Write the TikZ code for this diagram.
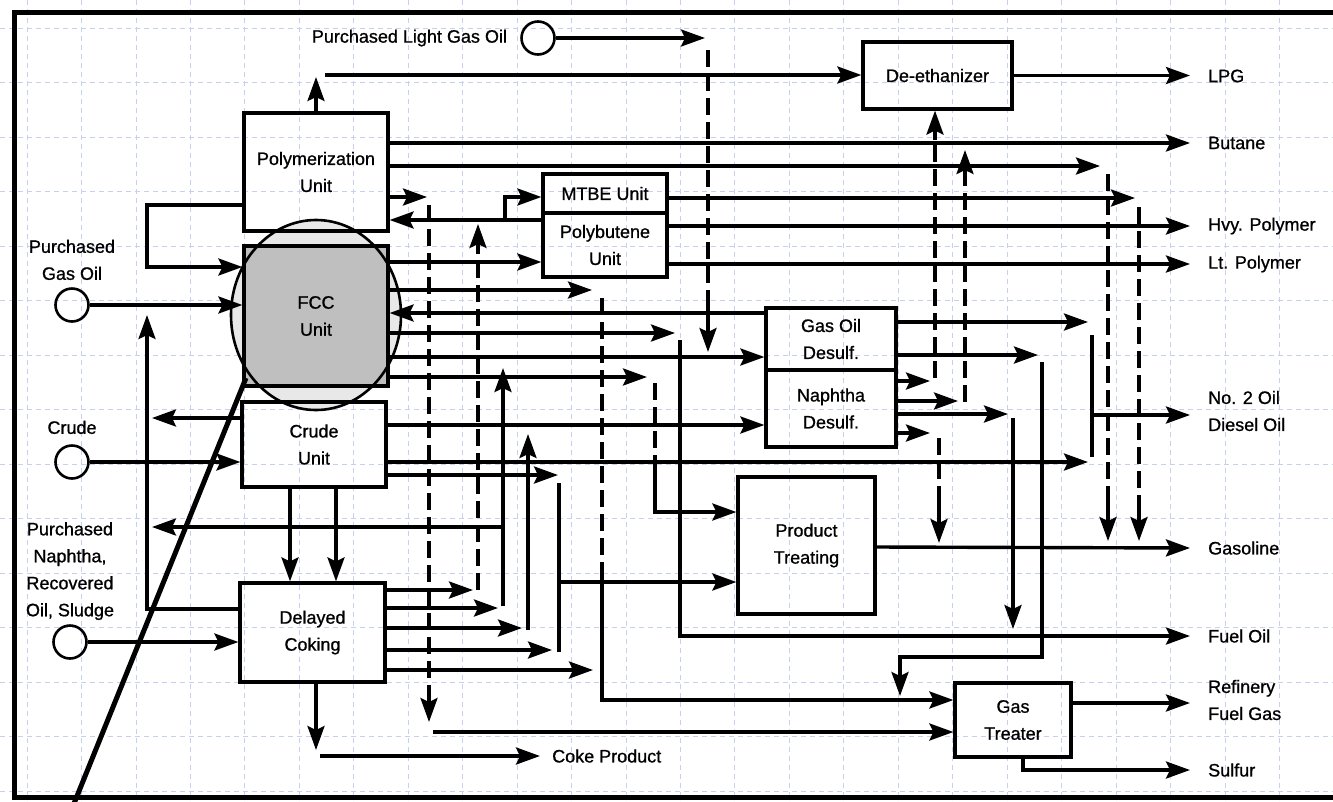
\documentclass[tikz,border=0pt]{standalone}
\usepackage{fontspec}
\setmainfont{Liberation Sans}[FakeBold=0.9]
\usepackage{tikz}
\usetikzlibrary{arrows.meta,positioning,calc}
\definecolor{gridblue}{RGB}{200,208,240}

\begin{document}
\begin{tikzpicture}[x=1pt,y=-1pt,
  font=\fontsize{18}{27}\selectfont,
  unitbox/.style={draw,line width=3.2pt,inner sep=0pt,align=center},
  feed/.style={draw,circle,line width=2.6pt,minimum size=33pt,inner sep=0pt},
  pipe/.style={line width=3.4pt},
  flow/.style={pipe,-{Stealth[length=24pt,width=17pt,inset=4pt]}},
  dashpipe/.style={pipe,dash pattern=on 17pt off 7pt},
  outlabel/.style={anchor=west,inner xsep=18pt,inner ysep=0pt,align=left},
  inlabel/.style={inner sep=0pt,align=center},
  gridline/.style={gridblue,line width=0.8pt,dash pattern=on 5pt off 4pt}]
\useasboundingbox (0,0) rectangle (1333,801);
\foreach \gx in {0,...,24} \draw[gridline] ({27+54.45*\gx},0) -- ({27+54.45*\gx},801);
\foreach \gy in {0,...,14} \draw[gridline] (0,{28+54.5*\gy}) -- (1333,{28+54.5*\gy});
\draw[line width=5pt] (1345,12) -- (14,12) -- (14,797) -- (1345,797);
\fill[gray!18] (316,315) ellipse [x radius=85pt, y radius=95pt];

\node[unitbox,minimum width=144pt,minimum height=118pt] (poly) at (316,172) {Polymerization\\Unit};
\node[unitbox,fill=gray!50,minimum width=144pt,minimum height=140pt] (fcc) at (316,316) {FCC\\Unit};
\node[unitbox,minimum width=144pt,minimum height=85pt] (crude) at (314,444.5) {Crude\\Unit};
\node[unitbox,minimum width=145pt,minimum height=99pt] (coker) at (312.5,632.5) {Delayed\\Coking};
\node[unitbox,minimum width=124pt,minimum height=39pt] (mtbe) at (605,193.5) {MTBE Unit};
\node[unitbox,minimum width=124pt,minimum height=64pt] (polyb) at (605,245) {Polybutene\\Unit};
\node[unitbox,minimum width=149pt,minimum height=67pt] (deeth) at (937.5,75.5) {De-ethanizer};
\node[unitbox,minimum width=130pt,minimum height=62pt] (gods) at (831,339) {Gas Oil\\Desulf.};
\node[unitbox,minimum width=130pt,minimum height=77pt] (nds) at (831,408.5) {Naphtha\\Desulf.};
\node[unitbox,minimum width=137pt,minimum height=137pt] (treat) at (806.5,545.5) {Product\\Treating};
\node[unitbox,minimum width=116pt,minimum height=74pt] (gastr) at (1013,720) {Gas\\Treater};
\draw[line width=2.6pt] (316,315) ellipse [x radius=85pt, y radius=95pt];

\node[feed] (lgo) at (538,38) {};
\node[feed] (pgo) at (72,305) {};
\node[feed] (crd) at (72,462) {};
\node[feed] (pns) at (70,642) {};
\node[inlabel,anchor=east] (lgolab) at ([xshift=-13pt]lgo.west) {Purchased Light Gas Oil};
\node[inlabel,above=7pt of pgo] (pgolab) {Purchased\\Gas Oil};
\node[inlabel,above=10pt of crd] (crdlab) {Crude};
\node[inlabel,above=4pt of pns] (pnslab) {Purchased\\Naphtha,\\Recovered\\Oil, Sludge};

\node[outlabel] (lpg) at (1190,76) {LPG};
\node[outlabel] (butane) at (1190,143) {Butane};
\node[outlabel] (hvy) at (1190,226) {Hvy. Polymer};
\node[outlabel] (lt) at (1190,264) {Lt. Polymer};
\node[outlabel] (diesel) at (1190,411) {No. 2 Oil\\Diesel Oil};
\node[outlabel] (gasoline) at (1190,548) {Gasoline};
\node[outlabel] (fueloil) at (1190,636) {Fuel Oil};
\node[outlabel] (rfg) at (1190,700) {Refinery\\Fuel Gas};
\node[outlabel] (sulfur) at (1190,770) {Sulfur};
\node[outlabel,inner xsep=12pt] (coke) at (540,756) {Coke Product};

\draw[flow] (lgo) -- (705,38);
\draw[flow] (pgo) -- (fcc.west |- pgo);
\draw[flow] (crd) -- (crude.west |- crd);
\draw[flow] (pns) -- (coker.west |- pns);

\draw[flow] (poly.north) -- (316,77);
\draw[flow] (325,75) -- (deeth.west |- 325,75);
\draw[flow] (deeth.east) -- (lpg.west |- deeth.east);
\draw[flow] (poly.east |- 0,143) -- (butane.west);
\draw[flow] (poly.east |- 0,166) -- (1100,166);
\draw[dashpipe] (1108,174) -- (1108,500);
\draw[flow] (1108,500) -- (1108,541);
\draw[flow] (poly.east |- 0,197) -- (427,197);
\draw[dashpipe] (429,205) -- (429,690);
\draw[flow] (429,690) -- (429,722);
\draw[flow] (polyb.west |- 0,220) -- (poly.east |- 0,220);
\draw[flow] (505,220) -- (505,197) -- (mtbe.west |- 0,197);
\draw[flow] (poly.west |- 0,205) -- (147,205) -- (147,267) -- (fcc.west |- 0,267);
\draw[dashpipe] (478,590) -- (478,250);
\draw[flow] (478,250) -- (478,224);

\draw[flow] (fcc.east |- 0,262) -- (polyb.west |- 0,262);
\draw[flow] (fcc.east |- 0,290) -- (592,290);
\draw[dashpipe] (602,298) -- (602,575);
\draw[flow] (602,575) -- (602,700) -- (gastr.west |- 0,700);
\draw[flow] (gods.west |- 0,313) -- (fcc.east |- 0,313);
\draw[flow] (fcc.east |- 0,333) -- (675,333);
\draw[flow] (680,340) -- (680,636) -- (fueloil.west);
\draw[flow] (fcc.east |- 0,357) -- (gods.west |- 0,357);
\draw[dashpipe] (708,50) -- (708,300);
\draw[flow] (708,300) -- (708,352);
\draw[flow] (fcc.east |- 0,377) -- (647,377);
\draw[dashpipe] (655,383) -- (655,470);
\draw[flow] (655,470) -- (655,512) -- (treat.west |- 0,512);

\draw[flow] (crude.west |- 0,418) -- (152,418);
\draw[flow] (crude.east |- 0,425) -- (nds.west |- 0,425);
\draw[flow] (crude.east |- 0,462) -- (1088,462);
\draw[flow] (crude.east |- 0,475) -- (558,475);
\draw[flow] (crude.south -| 290,0) -- (coker.north -| 290,0);
\draw[flow] (crude.south -| 336,0) -- (coker.north -| 336,0);

\draw[flow] (coker.west |- 0,609) -- (147,609) -- (147,315);
\draw[flow] (coker.east |- 0,590) -- (473,590);
\draw[flow] (coker.east |- 0,608) -- (498,608);
\draw[flow] (503,606) -- (503,368);
\draw[flow] (503,527) -- (152,527);
\draw[flow] (coker.east |- 0,628) -- (522,628);
\draw[flow] (528,630) -- (528,434);
\draw[flow] (coker.east |- 0,650) -- (552,650);
\draw[pipe] (559,652) -- (559,483);
\draw[flow] (559,582) -- (treat.west |- 0,582);
\draw[flow] (coker.east |- 0,670) -- (593,670);
\draw[flow] (coker.south -| 316,0) -- (316,750);
\draw[flow] (320,756) -- (coke.west);
\draw[flow] (433,732) -- (gastr.west |- 0,732);

\draw[flow] (mtbe.east |- 0,198) -- (1135,198);
\draw[dashpipe] (1139,207) -- (1139,500);
\draw[flow] (1139,500) -- (1139,541);
\draw[flow] (polyb.east |- 0,226) -- (hvy.west);
\draw[flow] (polyb.east |- lt.west) -- (lt.west);

\draw[flow] (gods.east |- 0,322) -- (1088,322);
\draw[flow] (gods.east |- 0,355) -- (1038,355);
\draw[flow] (1042,362) -- (1042,657) -- (900,657) -- (900,696);
\draw[flow] (nds.east |- 0,381) -- (930,381);
\draw[dashpipe] (935,378) -- (935,140);
\draw[flow] (935,140) -- (deeth.south -| 935,0);
\draw[flow] (nds.east |- 0,401) -- (958,401);
\draw[dashpipe] (965,402) -- (965,180);
\draw[flow] (965,180) -- (965,150);
\draw[flow] (nds.east |- 0,414) -- (1008,414);
\draw[flow] (1013,418) -- (1013,629);
\draw[flow] (nds.east |- 0,433) -- (930,433);
\draw[dashpipe] (939,438) -- (939,500);
\draw[flow] (939,500) -- (939,543);
\draw[pipe] (1092,335) -- (1092,457);
\draw[flow] (1092,415) -- (diesel.west |- 0,415);

\draw[flow] (treat.east |- 0,547) -- (gasoline.west);
\draw[flow] (gastr.east |- 0,703) -- (rfg.west |- 0,703);
\draw[flow] (gastr.south -| 1023,0) -- (1023,770) -- (sulfur.west);
\draw[line width=5pt] (246,378) -- (73,806);
\end{tikzpicture}
\end{document}
